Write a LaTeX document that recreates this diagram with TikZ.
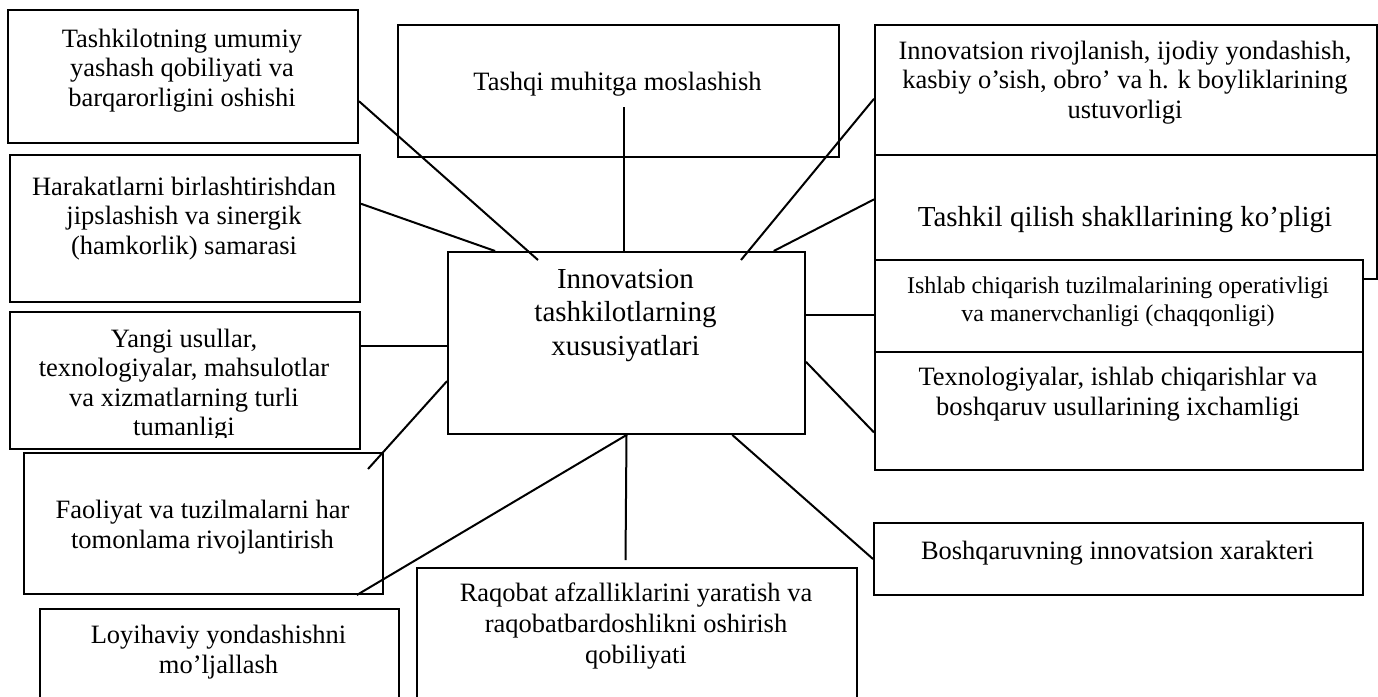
\documentclass[tikz,border=0pt]{standalone}
\usepackage{fontspec}
\setmainfont{Liberation Serif}
\begin{document}
\begin{tikzpicture}[x=1pt,y=-1pt,
  box/.style={draw, line width=2pt, inner sep=0pt, anchor=north west},
  txt/.style={align=center, inner sep=0pt, anchor=base, font=\fontsize{26.5}{29.5}\selectfont},
  bigtxt/.style={txt, font=\fontsize{29}{33.5}\selectfont},
  smalltxt/.style={txt, font=\fontsize{24}{28}\selectfont},
  link/.style={line width=2pt}]
\clip (0,0) rectangle (1378,696);
\fill[white] (0,0) rectangle (1378,696);

% frames
\node[box, minimum width=350pt, minimum height=133pt] (A) at (7,9) {};
\node[box, minimum width=350pt, minimum height=147pt] (B) at (9,154) {};
\node[box, minimum width=350pt, minimum height=137pt] (C) at (9,311) {};
\node[box, minimum width=359pt, minimum height=141pt] (D) at (23,452) {};
\node[box, minimum width=359pt, minimum height=120pt] (E) at (39,608) {};
\node[box, minimum width=441pt, minimum height=132pt] (F) at (397,24) {};
\node[box, minimum width=502pt, minimum height=130pt] (G) at (874,24) {};
\node[box, minimum width=502pt, minimum height=124pt] (H) at (874,154) {};
\node[box, fill=white, minimum width=488pt, minimum height=92pt] (I) at (874,259) {};
\node[box, minimum width=488pt, minimum height=118pt] (J) at (874,351) {};
\node[box, minimum width=489pt, minimum height=72pt] (K) at (873,522) {};
\node[box, minimum width=440pt, minimum height=160pt] (L) at (416,567) {};
\node[box, minimum width=357pt, minimum height=182pt] (M) at (447,251) {};

% texts (anchored at the baseline of the last line)
\node[txt] (tA) at (182,106) {Tashkilotning umumiy\\yashash qobiliyati va\\barqarorligini oshishi};
\node[txt] (tB) at (184,254) {Harakatlarni birlashtirishdan\\jipslashish va sinergik\\(hamkorlik) samarasi};
\begin{scope}
  \clip (9,311) rectangle (359,437);
  \node[txt] (tC) at (184,435.5) {Yangi usullar,\\texnologiyalar, mahsulotlar\\va xizmatlarning turli\\tumanligi};
\end{scope}
\node[txt] (tD) at (202.5,548) {Faoliyat va tuzilmalarni har\\tomonlama rivojlantirish};
\node[txt] (tE) at (218.5,673) {Loyihaviy yondashishni\\mo’ljallash};
\node[txt] (tF) at (617.5,90) {Tashqi muhitga moslashish};
\node[txt] (tG) at (1125,118) {Innovatsion rivojlanish, ijodiy yondashish,\\kasbiy o’sish, obro’ va h. k boyliklarining\\ustuvorligi};
\node[bigtxt] (tH) at (1125,226) {Tashkil qilish shakllarining ko’pligi};
\node[smalltxt] (tI) at (1118,321) {Ishlab chiqarish tuzilmalarining operativligi\\va manervchanligi (chaqqonligi)};
\node[txt] (tJ) at (1118,415) {Texnologiyalar, ishlab chiqarishlar va\\boshqaruv usullarining ixchamligi};
\node[txt] (tK) at (1117.5,559) {Boshqaruvning innovatsion xarakteri};
\node[txt, font=\fontsize{26.5}{31}\selectfont] (tL) at (636,663) {Raqobat afzalliklarini yaratish va\\raqobatbardoshlikni oshirish\\qobiliyati};
\node[bigtxt] (tM) at (625.5,355) {Innovatsion\\tashkilotlarning\\xususiyatlari};

% loose ends of connectors
\coordinate (aEnd) at (538,260);
\coordinate (gEnd) at (741,260);
\coordinate (fStart) at (624,107);
\coordinate (dStart) at (368,469);
\coordinate (lEnd) at (625.5,560);

% connectors
\draw[link] (A.-8.6) -- (aEnd);
\draw[link] (B.8.6) -- (M.145.3);
\draw[link] (M.181.9 -| C.east) -- (M.181.9);
\draw[link] (dStart) -- (M.192.6);
\draw[link] (D.-25.85) -- (M.south);
\draw[link] (fStart) -- (fStart |- M.north);
\draw[link] (G.182.96) -- (gEnd);
\draw[link] (H.176.35) -- (M.32.2);
\draw[link] (M.9.85) -- (M.9.85 -| I.west);
\draw[link] (M.-6.08) -- (J.185.4);
\draw[link] (M.-41.3) -- (K.west);
\draw[link] (M.south) -- (lEnd);
\end{tikzpicture}
\end{document}
